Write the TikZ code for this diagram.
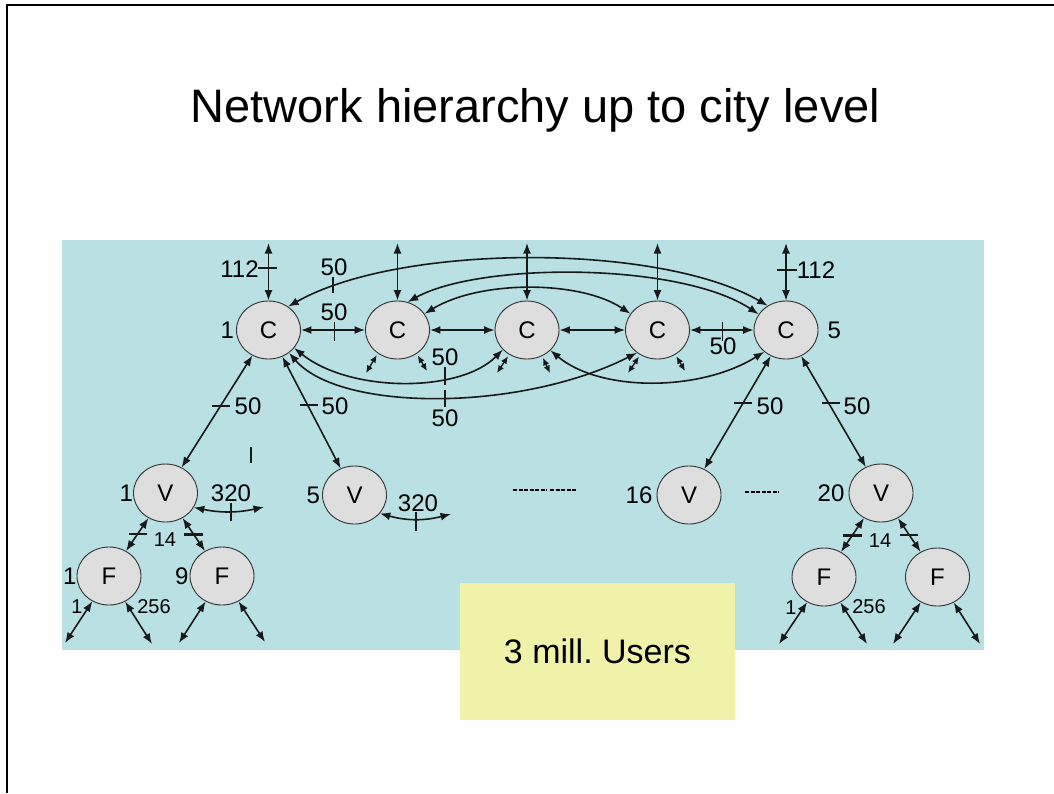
\documentclass[tikz,border=0pt]{standalone}
\usepackage{fontspec}
\setmainfont{Liberation Sans}
\frenchspacing
\usetikzlibrary{positioning,shapes.geometric,arrows.meta}
\definecolor{netblue}{RGB}{185,224,227}
\definecolor{usery}{RGB}{240,242,170}
\tikzset{
  nd/.style={ellipse, minimum width=64pt, minimum height=58pt, inner sep=0pt, draw=black!80, fill=black!13, line width=0.9pt, font=\fontsize{24}{24}\selectfont},
  lb/.style={inner sep=0pt, font=\fontsize{24}{24}\selectfont},
  lbs/.style={inner sep=0pt, font=\fontsize{20}{20}\selectfont},
  ln/.style={<->, line width=1.6pt, black!90},
  lnsm/.style={<->, line width=1.4pt, black!90, >={Latex[length=7.5pt,width=6.5pt]}},
  tk/.style={line width=1.3pt, black!90},
  tkb/.style={line width=3pt, black!90},
  userbox/.style={rectangle, minimum width=275pt, minimum height=137pt, fill=usery, font=\fontsize{34}{34}\selectfont},
  >={Latex[length=10.5pt,width=8pt]}
}
\begin{document}
\begin{tikzpicture}[x=1pt,y=1pt]
	\useasboundingbox (0,0) rectangle (1054,-793);
	\draw[line width=2pt] (6.5,-793) -- (6.5,-5) -- (1054,-5);
	\node[font=\fontsize{47}{47}\selectfont, anchor=base] (title) at (535.5,-122) {Network hierarchy up to city level};
	\fill[netblue] (62,-240) rectangle (984,-650);
	\node[userbox] (users) at (597.5,-651.5) {3 mill. Users};
	%
	\node[nd] (c1) at (268.5,-330) {C};
	\node[nd] (c2) at (397.5,-330) {C};
	\node[nd] (c3) at (527,-330) {C};
	\node[nd] (c4) at (657.5,-330) {C};
	\node[nd] (c5) at (786,-330) {C};
	\node[nd] (v1) at (165.5,-493) {V};
	\node[nd] (v2) at (354.5,-495) {V};
	\node[nd] (v3) at (689,-495) {V};
	\node[nd] (v4) at (881,-493) {V};
	\node[nd] (f1) at (109,-576) {F};
	\node[nd] (f2) at (222,-576) {F};
	\node[nd] (f3) at (824,-577) {F};
	\node[nd] (f4) at (937.5,-577) {F};
	%
	\node[lb, left=2pt of c1] (c1n) {1};
	\node[lb, right=9pt of c5] (c5n) {5};
	\node[lb, left=0pt of v1] (v1n) {1};
	\node[lb, left=2pt of v2] (v2n) {5};
	\node[lb, left=4pt of v3] (v3n) {16};
	\node[lb, left=4pt of v4] (v4n) {20};
	\node[lb, left=0pt of f1] (f1n) {1};
	\node[lb, left=1pt of f2] (f2n) {9};
	%
	\node[lb] (up1) at (239.5,-269) {112};
	\node[lb] (up5) at (816,-270) {112};
	\node[lb] (w15) at (334,-267.5) {50};
	\node[lb] (w12) at (334,-312.5) {50};
	\node[lb] (w45) at (723,-346) {50};
	\node[lb] (w13) at (445,-357) {50};
	\node[lb] (w14) at (445,-418) {50};
	\node[lb] (wv1) at (248,-406) {50};
	\node[lb] (wv2) at (335,-406) {50};
	\node[lb] (wv3) at (770,-406) {50};
	\node[lb] (wv4) at (857,-406) {50};
	\node[lb] (r1) at (231,-493) {320};
	\node[lb] (r2) at (418,-503) {320};
	\node[lbs] (vf1) at (165,-540) {14};
	\node[lbs] (vf4) at (880,-541) {14};
	\node[lbs] (u1) at (77,-607) {1};
	\node[lbs] (u1b) at (154,-607) {256};
	\node[lbs] (u3) at (791,-608) {1};
	\node[lbs] (u3b) at (869,-607) {256};
	%
	\coordinate (c1up) at (268.5,-243);
	\coordinate (c2up) at (397.5,-243);
	\coordinate (c3up) at (527,-243);
	\coordinate (c4up) at (657.5,-243);
	\coordinate (c5up) at (786,-243);
	\coordinate (c2a) at (366,-373);
	\coordinate (c2b) at (427,-371);
	\coordinate (c3a) at (497,-373);
	\coordinate (c3b) at (550,-373);
	\coordinate (c4a) at (628,-373);
	\coordinate (c4b) at (685,-371);
	\coordinate (v1r) at (264,-507);
	\coordinate (v2r) at (451,-514);
	\coordinate (f1a) at (65,-643);
	\coordinate (f1b) at (152,-644);
	\coordinate (f2a) at (179,-643);
	\coordinate (f2b) at (265,-642);
	\coordinate (f3a) at (779,-644);
	\coordinate (f3b) at (867,-644);
	\coordinate (f4a) at (893,-644);
	\coordinate (f4b) at (980,-644);
	%
	\foreach \c in {c1,c2,c3,c4,c5}
		\draw[ln] (\c) -- (\c up);
	\draw[ln] (c1) -- (c2);
	\draw[ln] (c2) -- (c3);
	\draw[ln] (c3) -- (c4);
	\draw[ln] (c4) -- (c5);
	\draw[ln] (c1.50) .. controls (400,-243) and (660,-243) .. (c5.127);
	\draw[ln] (c2.70) .. controls (480,-262) and (680,-262) .. (c5.150);
	\draw[ln] (c2.31) .. controls (480,-280) and (580,-280) .. (c4.149);
	\draw[ln] (c1.325) .. controls (350,-393) and (460,-393) .. (c3.219);
	\draw[ln] (c1.312) .. controls (340,-412) and (520,-412) .. (c4.228);
	\draw[ln] (c3.319) .. controls (600,-392) and (700,-392) .. (c5.225);
	\draw[lnsm, shorten <=2pt] (c2.230) -- (c2a);
	\draw[lnsm, shorten <=2pt] (c2.309) -- (c2b);
	\draw[lnsm, shorten <=2pt] (c3.234) -- (c3a);
	\draw[lnsm, shorten <=2pt] (c3.300) -- (c3b);
	\draw[lnsm, shorten <=2pt] (c4.235) -- (c4a);
	\draw[lnsm, shorten <=2pt] (c4.306) -- (c4b);
	%
	\draw[ln] (c1) -- (v1);
	\draw[ln] (c1) -- (v2);
	\draw[ln] (c5) -- (v3);
	\draw[ln] (c5) -- (v4);
	\draw[ln] (v1.333) to[bend right=12] (v1r);
	\draw[ln] (v2.324) to[bend right=15] (v2r);
	\draw[ln] (v1) -- (f1);
	\draw[ln] (v1) -- (f2);
	\draw[ln] (v4) -- (f3);
	\draw[ln] (v4) -- (f4);
	\foreach \f in {f1,f2,f3,f4}{
		\draw[ln] (\f) -- (\f a);
		\draw[ln] (\f) -- (\f b);
	}
	% ticks
	\draw[tk] (258,-268) -- (277,-268);
	\draw[tk] (777,-270) -- (797,-270);
	\draw[tk] (334.5,-322) -- (334.5,-341);
	\draw[tk] (333,-277) -- (333,-293);
	\draw[tk] (722.5,-322) -- (722.5,-341);
	\draw[tk] (445,-367) -- (445,-385);
	\draw[tk] (445,-390) -- (445,-407);
	\draw[tk] (212,-406) -- (230,-406);
	\draw[tk] (300,-405) -- (318,-405);
	\draw[tk] (734,-403) -- (752,-403);
	\draw[tk] (822,-403) -- (840,-403);
	\draw[tk] (231,-503) -- (231,-521);
	\draw[tk] (416,-512) -- (416,-531);
	\draw[tk] (129,-534) -- (147,-534);
	\draw[tkb] (184,-534) -- (203,-534);
	\draw[tkb] (843,-535) -- (862,-535);
	\draw[tk] (900,-535) -- (918,-535);
	\draw[tk] (251,-447) -- (251,-463);
	%
	\draw[line width=1.2pt, dash pattern=on 4pt off 1.5pt] (513,-490) -- (547,-490);
	\draw[line width=1.2pt, dash pattern=on 4pt off 1.5pt] (550,-490) -- (576,-490);
	\draw[line width=1.2pt, dash pattern=on 4pt off 1.5pt] (745,-492) -- (779,-492);
\end{tikzpicture}
\end{document}
